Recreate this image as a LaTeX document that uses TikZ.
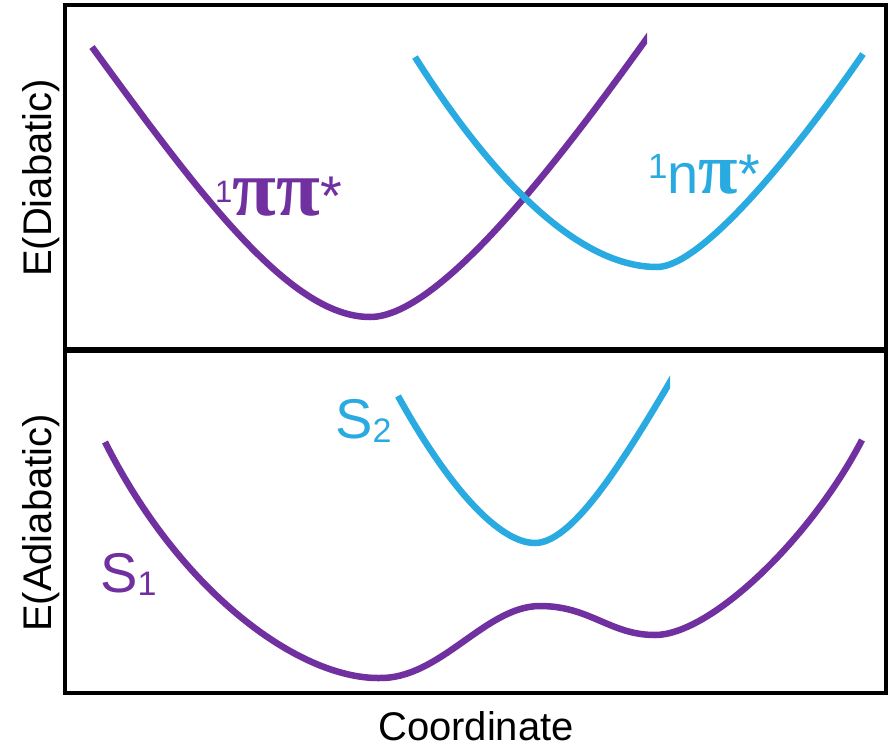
\documentclass[tikz,border=0pt]{standalone}
\usepackage{fontspec}
\setmainfont{Liberation Sans}
\newfontfamily\pifont{Liberation Serif}
\definecolor{pur}{HTML}{7030A0}
\definecolor{blu}{HTML}{29ABE2}
\begin{document}
\begin{tikzpicture}[x=1pt,y=-1pt,
  curve/.style={line width=6.5pt, line join=round},
  frame/.style={line width=4pt, black},
  axlabel/.style={font=\fontsize{40}{40}\selectfont, inner sep=0pt},
  statelabel/.style={font=\fontsize{56}{56}\selectfont, inner sep=0pt, anchor=base west}]
\useasboundingbox (0,0) rectangle (889,747);
% frames
\draw[frame] (65,5) rectangle (886,693);
\draw[line width=6pt] (65,350) -- (886,350);
% axis labels
\node[axlabel, rotate=90, anchor=base] (ydia) at (51,178) {E(Diabatic)};
\node[axlabel, rotate=90, anchor=base] (yadia) at (51,523) {E(Adiabatic)};
\node[axlabel, anchor=base] (xlab) at (476,740) {Coordinate};
% top panel: diabatic curves
\begin{scope}
\clip (0,0) rectangle (647,747);
\draw[pur, curve] (92,47) .. controls (200,195) and (290,317) .. (370,317)
  .. controls (440,317) and (560,160) .. (655,27);
\end{scope}
\draw[blu, curve] (415,57) .. controls (480,160) and (570,267) .. (657,267)
  .. controls (700,267) and (790,160) .. (863,54);
% bottom panel: adiabatic curves
\draw[pur, curve] (105,442) .. controls (182,595) and (300,678) .. (378,678)
  .. controls (440,680) and (485,606) .. (540,606)
  .. controls (590,606) and (610,635) .. (655,635)
  .. controls (710,635) and (810,540) .. (862,440);
\begin{scope}
\clip (0,0) rectangle (670,747);
\draw[blu, curve] (398,396) .. controls (450,490) and (500,543) .. (535,543)
  .. controls (575,543) and (630,450) .. (680,365);
\end{scope}
% state labels
\node[statelabel, pur] (pp) at (215,215) {\raisebox{13pt}{\fontsize{31}{31}\selectfont 1}{\pifont\bfseries\fontsize{80}{80}\selectfont ππ}*};
\node[statelabel, blu] (np) at (648,193) {\raisebox{15pt}{\fontsize{35}{35}\selectfont 1}n{\pifont\bfseries\fontsize{72}{72}\selectfont π}*};
\node[statelabel, blu] (s2) at (335,438) {S\raisebox{-4pt}{\fontsize{34}{34}\selectfont 2}};
\node[statelabel, pur] (s1) at (100,592) {S\raisebox{-3pt}{\fontsize{34}{34}\selectfont 1}};
\end{tikzpicture}
\end{document}
